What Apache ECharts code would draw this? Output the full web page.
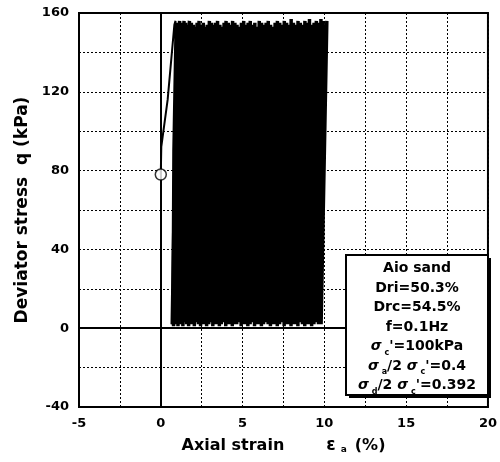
<!DOCTYPE html>
<html><head><meta charset="utf-8">
<script src="https://cdn.jsdelivr.net/npm/echarts@6/dist/echarts.min.js"></script>
<style>html,body{margin:0;padding:0;background:#fff}#c{width:500px;height:462px}</style>
</head><body><div id="c"></div>
<script>
// Initial monotonic loading from the consolidation state, then first unloading
const initialStrain = [0, 0.03, 0.42, 0.83, 0.90, 0.97, 0.76, 0.70];
const initialQ = [78, 92, 116, 154, 156, 155, 90, 2];
// Cyclic loading: strain / deviator stress at trough and at peak of each cycle
const troughStrain = [0.70,0.78,0.85,0.95,1.05,1.12,1.22,1.35,1.45,1.58,
1.70,1.82,1.93,2.05,2.18,2.30,2.43,2.55,2.68,2.80,
2.93,3.05,3.18,3.32,3.45,3.58,3.70,3.84,3.97,4.10,
4.24,4.37,4.50,4.64,4.78,4.91,5.05,5.18,5.32,5.46,
5.60,5.73,5.87,6.01,6.15,6.28,6.42,6.56,6.70,6.84,
6.98,7.12,7.26,7.40,7.54,7.68,7.82,7.96,8.10,8.24,
8.38,8.52,8.66,8.80,8.94,9.08,9.22,9.36,9.50,9.64,9.80];
const troughQ = [2,1,2,3,1,2,2,1,3,2,
1,2,2,1,3,2,1,2,2,1,
2,3,1,2,2,1,2,3,1,2,
2,1,2,2,3,1,2,2,1,2,
3,1,2,2,1,2,3,2,1,2,
2,1,2,3,1,2,2,1,2,2,
1,3,2,1,2,2,1,2,3,2,2];
const peakStrain = [1.00,1.07,1.15,1.24,1.33,1.42,1.52,1.64,1.75,1.87,
1.99,2.11,2.22,2.34,2.47,2.60,2.72,2.84,2.97,3.09,
3.22,3.34,3.47,3.61,3.74,3.87,3.99,4.13,4.26,4.39,
4.53,4.66,4.79,4.93,5.07,5.20,5.34,5.47,5.61,5.75,
5.89,6.02,6.16,6.30,6.44,6.57,6.71,6.85,6.99,7.13,
7.27,7.41,7.55,7.69,7.83,7.97,8.11,8.25,8.39,8.53,
8.67,8.81,8.95,9.09,9.23,9.37,9.51,9.65,9.79,9.93,10.15];
const peakQ = [155,154,156,155,153,156,155,154,156,155,
154,153,155,156,154,155,153,154,156,155,
154,155,156,154,153,155,156,155,154,156,
155,154,153,155,156,154,155,156,154,155,
153,156,155,154,155,156,154,153,155,156,
155,154,156,155,154,157,155,154,156,155,
154,156,155,157,154,155,156,155,157,156,156];
// Start point marker
const startPoint = [[0, 78]];
const xTicks = [-5, 0, 5, 10, 15, 20];
const yTicks = [-40, 0, 40, 80, 120, 160];

const initialPath = [];
for (let i = 0; i < initialStrain.length; i++) initialPath.push([initialStrain[i], initialQ[i]]);
const path = [];
const n = Math.min(troughStrain.length, troughQ.length, peakStrain.length, peakQ.length);
for (let i = 0; i < n; i++) {
  path.push([troughStrain[i], troughQ[i]]);
  path.push([peakStrain[i], peakQ[i]]);
}

const FONT = 'DejaVu Sans';
const chart = echarts.init(document.getElementById('c'), null, {renderer: 'canvas'});
chart.setOption({
  animation: false,
  backgroundColor: '#fff',
  grid: {left: 79, right: 9, top: 13, bottom: 55, show: true, borderColor: '#000', borderWidth: 2, backgroundColor: 'transparent'},
  xAxis: {
    type: 'value', min: xTicks[0], max: xTicks[xTicks.length-1], interval: 5,
    axisLine: {show: false}, axisTick: {show: false},
    axisLabel: {color: '#000', fontFamily: FONT, fontWeight: 'bold', fontSize: 13, margin: 10},
    splitLine: {show: true, lineStyle: {color: '#000', type: [2, 2], width: 1}},
    minorTick: {show: false, splitNumber: 2},
    minorSplitLine: {show: true, lineStyle: {color: '#000', type: [2, 2], width: 1}},
    name: '{t|Axial strain}{e|ε}{s|a}{p|(%)}', nameLocation: 'middle', nameGap: 30,
    nameTextStyle: {rich: {
      t: {fontFamily: FONT, fontWeight: 'bold', fontSize: 16, color: '#000'},
      e: {fontFamily: FONT, fontWeight: 'bold', fontSize: 17, color: '#000', padding: [0, 0, 0, 42]},
      s: {fontFamily: FONT, fontWeight: 'bold', fontSize: 9, color: '#000', verticalAlign: 'bottom', padding: [6, 0, 0, 5]},
      p: {fontFamily: FONT, fontWeight: 'bold', fontSize: 16, color: '#000', padding: [0, 0, 0, 8]}
    }}
  },
  yAxis: {
    type: 'value', min: yTicks[0], max: yTicks[yTicks.length-1], interval: 40,
    axisLine: {show: false}, axisTick: {show: false},
    axisLabel: {color: '#000', fontFamily: FONT, fontWeight: 'bold', fontSize: 13, margin: 10},
    splitLine: {show: true, lineStyle: {color: '#000', type: [2, 2], width: 1}},
    minorTick: {show: false, splitNumber: 2},
    minorSplitLine: {show: true, lineStyle: {color: '#000', type: [2, 2], width: 1}},
    name: 'Deviator stress  q (kPa)', nameLocation: 'middle', nameGap: 33, nameRotate: 90,
    nameTextStyle: {fontFamily: FONT, fontWeight: 'bold', fontSize: 17, color: '#000'}
  },
  series: [
    {
      type: 'line', data: initialPath, showSymbol: false, symbol: 'none',
      lineStyle: {color: '#000', width: 2}, z: 3,
      markLine: {
        silent: true, symbol: 'none', label: {show: false},
        lineStyle: {color: '#000', type: 'solid', width: 2},
        data: [{xAxis: 0}, {yAxis: 0}]
      }
    },
    {
      type: 'line', data: path, showSymbol: false, symbol: 'none',
      lineStyle: {color: '#000', width: 3.5, join: 'bevel', cap: 'butt'}, z: 3
    },
    {
      type: 'scatter', data: startPoint, symbol: 'circle', symbolSize: 11,
      itemStyle: {color: '#fff', borderColor: '#000', borderWidth: 1.5}, z: 5
    }
  ],
  graphic: [
    {type: 'rect', x: 349, y: 258, z: 9,
     shape: {width: 142, height: 140},
     style: {fill: '#000'}},
    {type: 'rect', x: 346, y: 255, z: 10,
     shape: {width: 142, height: 140},
     style: {fill: '#fff', stroke: '#000', lineWidth: 2}},
    {type: 'text', x: 417, y: 259, z: 11,
     style: {
       text: 'Aio sand\nDri=50.3%\nDrc=54.5%\nf=0.1Hz\n{g|σ}{s| c}\'=100kPa\n{g|σ}{s| a}/2 {g|σ}{s| c}\'=0.4\n{g|σ}{s| d}/2 {g|σ}{s| c}\'=0.392',
       align: 'center', verticalAlign: 'top',
       font: 'bold 14px "DejaVu Sans"', fill: '#000', lineHeight: 19.5,
       rich: {
         g: {font: 'italic bold 14px "DejaVu Sans"', fill: '#000', lineHeight: 19.5},
         s: {font: 'bold 8px "DejaVu Sans"', fill: '#000', lineHeight: 19.5, verticalAlign: 'bottom'}
       }
     }}
  ]
});
</script></body></html>
